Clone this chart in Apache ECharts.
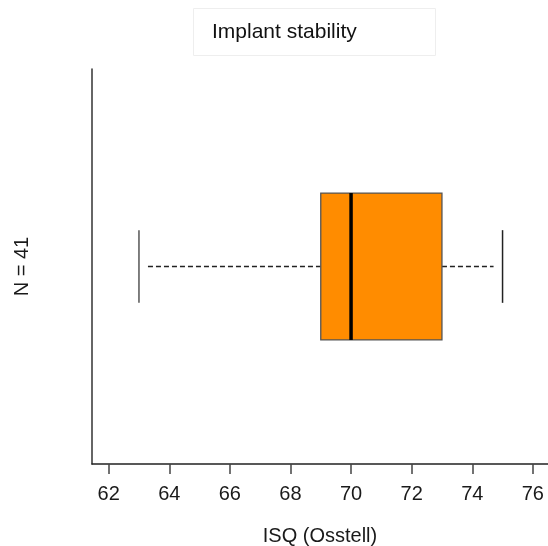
<!DOCTYPE html>
<html><head><meta charset="utf-8">
<script src="https://cdn.jsdelivr.net/npm/echarts@6/dist/echarts.min.js"></script>
<style>html,body{margin:0;padding:0;background:#fff}#c{width:548px;height:546px}</style>
</head><body><div id="c"></div>
<script>
// data
const categories = ['N = 41'];
const boxStats = [[63, 69, 70, 73, 75]]; // min, Q1, median, Q3, max
const xTicks = [62, 64, 66, 68, 70, 72, 74, 76];
const titleText = 'Implant stability';
const xName = 'ISQ (Osstell)';

const chart = echarts.init(document.getElementById('c'), null, {renderer: 'canvas'});
const BOX_HALF = 0.372, CAP_HALF = 0.184;
const FONT = 'Liberation Sans, Arial';
chart.setOption({
  animation: false,
  title: {
    text: titleText, left: 193, top: 8,
    padding: [13, 79, 13, 19],
    borderColor: '#eeeeee', borderWidth: 1,
    textStyle: {fontFamily: FONT, fontSize: 21, lineHeight: 22, fontWeight: 'normal', color: '#111'}
  },
  grid: {left: 92, top: 69, right: 0, bottom: 82, containLabel: false, outerBoundsMode: 'none'},
  xAxis: {
    type: 'value', min: 61.45, max: 76.5,
    name: xName, nameLocation: 'middle', nameGap: 62,
    nameTextStyle: {fontFamily: FONT, fontSize: 20, color: '#1a1a1a'},
    axisLine: {show: true, lineStyle: {color: '#222', width: 1.5}},
    axisTick: {show: true, length: 10, customValues: xTicks, lineStyle: {color: '#444', width: 1.5}},
    axisLabel: {customValues: xTicks, margin: 20, fontFamily: FONT, fontSize: 20, color: '#1a1a1a'},
    splitLine: {show: false}
  },
  yAxis: {
    type: 'value', min: 0, max: 2,
    name: categories[0], nameLocation: 'middle', nameGap: 60, nameRotate: 90,
    nameTextStyle: {fontFamily: FONT, fontSize: 20, color: '#1a1a1a'},
    axisLine: {show: true, lineStyle: {color: '#333', width: 1.5}},
    axisTick: {show: false}, axisLabel: {show: false}, splitLine: {show: false}
  },
  series: [{
    type: 'custom',
    data: boxStats.map((s, i) => [...s, i + 1]),
    encode: {x: [0, 1, 2, 3, 4], y: 5},
    renderItem: function (params, api) {
      const mn = api.value(0), q1 = api.value(1), md = api.value(2), q3 = api.value(3), mx = api.value(4), y = api.value(5);
      const pMin = api.coord([mn, y]), pQ1 = api.coord([q1, y]), pMd = api.coord([md, y]), pQ3 = api.coord([q3, y]), pMax = api.coord([mx, y]);
      const top = api.coord([q1, y + BOX_HALF])[1], bot = api.coord([q1, y - BOX_HALF])[1];
      const cTop = api.coord([mn, y + CAP_HALF])[1], cBot = api.coord([mn, y - CAP_HALF])[1];
      const cy = pMd[1];
      const gap = 9;
      return {
        type: 'group',
        children: [
          {type: 'line', shape: {x1: pMin[0] + gap, y1: cy, x2: pQ1[0], y2: cy}, style: {stroke: '#222', lineWidth: 1.3, lineDash: [5, 3]}},
          {type: 'line', shape: {x1: pQ3[0], y1: cy, x2: pMax[0] - gap, y2: cy}, style: {stroke: '#222', lineWidth: 1.3, lineDash: [5, 3]}},
          {type: 'line', shape: {x1: pMin[0], y1: cTop, x2: pMin[0], y2: cBot}, style: {stroke: '#555', lineWidth: 1.5}},
          {type: 'line', shape: {x1: pMax[0], y1: cTop, x2: pMax[0], y2: cBot}, style: {stroke: '#222', lineWidth: 1.5}},
          {type: 'rect', shape: {x: pQ1[0], y: top, width: pQ3[0] - pQ1[0], height: bot - top}, style: {fill: '#FF8C00', stroke: '#555', lineWidth: 1.3}},
          {type: 'line', shape: {x1: pMd[0], y1: top, x2: pMd[0], y2: bot}, style: {stroke: '#000', lineWidth: 3.5}}
        ]
      };
    }
  }]
});
</script></body></html>
